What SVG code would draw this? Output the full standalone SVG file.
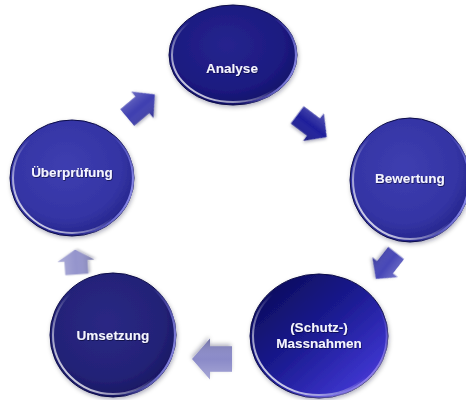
<svg xmlns="http://www.w3.org/2000/svg" width="466" height="400" viewBox="0 0 466 400">
<defs>
  <radialGradient id="gA" cx="0.45" cy="0.4" r="0.6">
    <stop offset="0" stop-color="#26248e"/>
    <stop offset="0.75" stop-color="#1c1a80"/>
    <stop offset="1" stop-color="#12116a"/>
  </radialGradient>
  <radialGradient id="gB" cx="0.45" cy="0.4" r="0.6">
    <stop offset="0" stop-color="#3e3eb0"/>
    <stop offset="0.75" stop-color="#3434a4"/>
    <stop offset="1" stop-color="#26268c"/>
  </radialGradient>
  <radialGradient id="gU" cx="0.45" cy="0.4" r="0.6">
    <stop offset="0" stop-color="#2a2884"/>
    <stop offset="0.75" stop-color="#232277"/>
    <stop offset="1" stop-color="#181762"/>
  </radialGradient>
  <linearGradient id="gM" x1="0" y1="0" x2="1" y2="1">
    <stop offset="0" stop-color="#08084e"/>
    <stop offset="0.45" stop-color="#1a1a8e"/>
    <stop offset="0.8" stop-color="#3a32c8"/>
    <stop offset="1" stop-color="#6a40e0"/>
  </linearGradient>
  <linearGradient id="hl" x1="1" y1="0" x2="0" y2="1">
    <stop offset="0" stop-color="#ffffff" stop-opacity="0"/>
    <stop offset="0.5" stop-color="#ffffff" stop-opacity="0"/>
    <stop offset="0.85" stop-color="#ffffff" stop-opacity="0.75"/>
    <stop offset="1" stop-color="#ffffff" stop-opacity="0.9"/>
  </linearGradient>
  <linearGradient id="rim" x1="0" y1="0.3" x2="1" y2="0.6">
    <stop offset="0" stop-color="#8c8cff" stop-opacity="0"/>
    <stop offset="0.7" stop-color="#8c8cff" stop-opacity="0"/>
    <stop offset="1" stop-color="#a0a0ff" stop-opacity="0.8"/>
  </linearGradient>
  <linearGradient id="rimM" x1="0" y1="0" x2="1" y2="1">
    <stop offset="0" stop-color="#b0a0ff" stop-opacity="0"/>
    <stop offset="0.6" stop-color="#b0a0ff" stop-opacity="0"/>
    <stop offset="1" stop-color="#c8b8ff" stop-opacity="0.9"/>
  </linearGradient>
  <linearGradient id="shade" x1="0" y1="0" x2="0" y2="1">
    <stop offset="0" stop-color="#ffffff" stop-opacity="0.25"/>
    <stop offset="0.5" stop-color="#ffffff" stop-opacity="0"/>
    <stop offset="1" stop-color="#000000" stop-opacity="0.2"/>
  </linearGradient>
  <filter id="sh" x="-20%" y="-20%" width="140%" height="140%">
    <feDropShadow dx="1" dy="2" stdDeviation="2" flood-color="#000030" flood-opacity="0.3"/>
  </filter>
  <filter id="tsh" x="-10%" y="-30%" width="120%" height="160%">
    <feDropShadow dx="0.6" dy="0.8" stdDeviation="0.6" flood-color="#000020" flood-opacity="0.7"/>
  </filter>
  <path id="arr" d="M -20,-12.5 L 2,-12.5 L 2,-20 L 20,0 L 2,20 L 2,12.5 L -20,12.5 Z"/>
</defs>
<style>
  .edge { stroke: #0b0b48; stroke-width: 1; }
  .hl { fill: none; stroke: url(#hl); stroke-width: 2; }
  .rim { fill: none; stroke: url(#rim); stroke-width: 2.2; }
  .rimM { fill: none; stroke: url(#rimM); stroke-width: 2.5; }
  .lbl { font-family: "Liberation Sans", Arial, sans-serif; font-weight: bold; font-size: 13.5px; fill: #f4f4ff; text-anchor: middle; filter: url(#tsh); }
</style>
<rect width="466" height="400" fill="#ffffff"/>

<g id="connectors">
  <g id="arrow-analyse-bewertung" transform="translate(312,126) rotate(37) scale(0.92,0.86)" filter="url(#sh)">
    <use href="#arr" fill="#1e1e9a"/>
    <use href="#arr" fill="url(#shade)"/>
  </g>
  <g id="arrow-bewertung-massnahmen" transform="translate(386,266) rotate(128) scale(0.82,0.8)" filter="url(#sh)">
    <use href="#arr" fill="#4646b6"/>
    <use href="#arr" fill="url(#shade)"/>
  </g>
  <g id="arrow-massnahmen-umsetzung" transform="translate(212,359) rotate(180) scale(1,1.02)" filter="url(#sh)">
    <use href="#arr" fill="#8a8ac8"/>
    <use href="#arr" fill="url(#shade)"/>
  </g>
  <g id="arrow-umsetzung-ueberpruefung" transform="translate(76,262) rotate(-94) scale(0.62,0.92)" filter="url(#sh)">
    <use href="#arr" fill="#9494cc"/>
    <use href="#arr" fill="url(#shade)"/>
  </g>
  <g id="arrow-ueberpruefung-analyse" transform="translate(141,106) rotate(-40) scale(0.9,0.86)" filter="url(#sh)">
    <use href="#arr" fill="#3e3eb0"/>
    <use href="#arr" fill="url(#shade)"/>
  </g>
</g>

<g id="node-analyse">
  <ellipse cx="233" cy="55" rx="64" ry="50" fill="url(#gA)" class="edge" filter="url(#sh)"/>
  <ellipse cx="233" cy="55" rx="61" ry="47" class="hl"/>
  <ellipse cx="233" cy="55" rx="63" ry="49" class="rim"/>
  <text x="232" y="73" class="lbl">Analyse</text>
</g>

<g id="node-bewertung">
  <ellipse cx="410" cy="180" rx="60" ry="62" fill="url(#gB)" class="edge" filter="url(#sh)"/>
  <ellipse cx="410" cy="180" rx="57" ry="59" class="hl"/>
  <ellipse cx="410" cy="180" rx="59" ry="61" class="rim"/>
  <text x="410" y="183" class="lbl">Bewertung</text>
</g>

<g id="node-massnahmen">
  <ellipse cx="319" cy="336" rx="69" ry="62" fill="url(#gM)" class="edge" filter="url(#sh)"/>
  <ellipse cx="319" cy="336" rx="66" ry="59" class="hl"/>
  <ellipse cx="319" cy="336" rx="68" ry="61" class="rimM"/>
  <text x="319" y="332" class="lbl">(Schutz-)</text>
  <text x="319" y="348" class="lbl">Massnahmen</text>
</g>

<g id="node-umsetzung">
  <ellipse cx="113" cy="335" rx="63" ry="62" fill="url(#gU)" class="edge" filter="url(#sh)"/>
  <ellipse cx="113" cy="335" rx="60" ry="59" class="hl"/>
  <ellipse cx="113" cy="335" rx="62" ry="61" class="rim"/>
  <text x="113" y="340" class="lbl">Umsetzung</text>
</g>

<g id="node-ueberpruefung">
  <ellipse cx="72" cy="178" rx="62" ry="58" fill="url(#gB)" class="edge" filter="url(#sh)"/>
  <ellipse cx="72" cy="178" rx="59" ry="55" class="hl"/>
  <ellipse cx="72" cy="178" rx="61" ry="57" class="rim"/>
  <text x="72" y="177" class="lbl">Überprüfung</text>
</g>
</svg>
